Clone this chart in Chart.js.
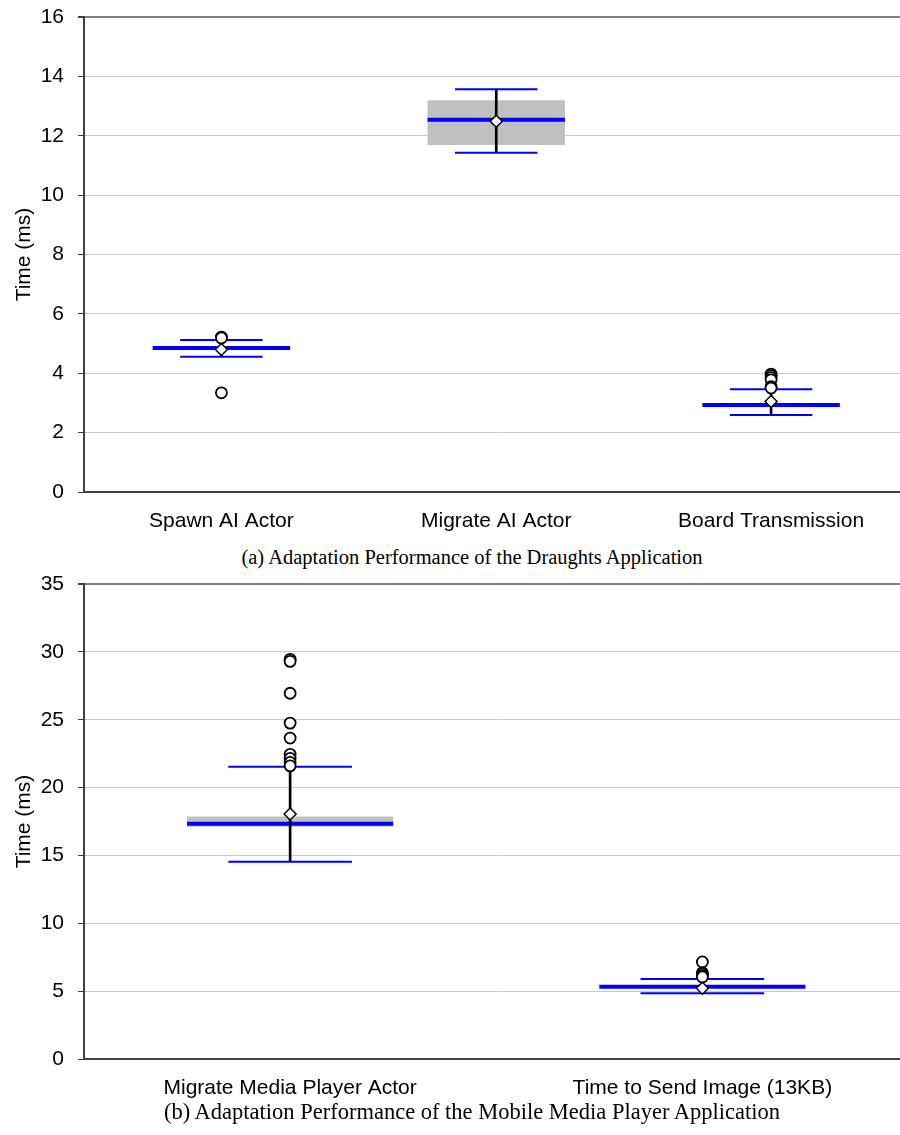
<!DOCTYPE html>
<html>
<head>
<meta charset="utf-8">
<script src="https://cdn.jsdelivr.net/npm/chart.js@4.4.0/dist/chart.umd.min.js"></script>
<style>
  html, body { margin: 0; padding: 0; background: #fff; overflow: hidden; }
  body { width: 900px; height: 1135px; position: relative; }
  .panel { position: absolute; left: 0; width: 916px; height: 545px; }
  .caption {
    position: absolute; left: 0; width: 944px; height: 24px; line-height: 24px;
    text-align: center; font-family: 'Liberation Serif', 'Times New Roman', serif;
    font-size: 20.5px; color: #000;
  }
</style>
</head>
<body>
<div class="panel" style="top:0"><canvas id="chartA" width="916" height="545"></canvas></div>
<div class="caption" style="top:545px">(a) Adaptation Performance of the Draughts Application</div>
<div class="panel" style="top:567px"><canvas id="chartB" width="916" height="545"></canvas></div>
<div class="caption" style="top:1100px; font-size:22.5px">(b) Adaptation Performance of the Mobile Media Player Application</div>

<script>
// (a) Draughts application
const catsA = ['Spawn AI Actor', 'Migrate AI Actor', 'Board Transmission'];
const lowA = [4.56, 11.43, 2.59];
const q1A = [4.80, 11.69, 2.88];
const medA = [4.85, 12.54, 2.93];
const q3A = [4.90, 13.20, 2.98];
const highA = [5.12, 13.57, 3.46];
const meanA = [4.80, 12.49, 3.05];
const outA = [[5.22, 5.19, 3.34], [], [3.97, 3.92, 3.85, 3.78, 3.55, 3.50]];
const ticksA = [0, 2, 4, 6, 8, 10, 12, 14, 16];

// (b) Mobile media player application
const catsB = ['Migrate Media Player Actor', 'Time to Send Image (13KB)'];
const lowB = [14.54, 4.84];
const q1B = [17.12, 5.25];
const medB = [17.34, 5.33];
const q3B = [17.86, 5.42];
const highB = [21.54, 5.90];
const meanB = [18.05, 5.21];
const outB = [[29.45, 29.3, 26.95, 24.75, 23.65, 22.45, 22.15, 21.85, 21.6], [7.15, 6.35, 6.25, 6.15, 6.05]];
const ticksB = [0, 5, 10, 15, 20, 25, 30, 35];

const SANS = "'Liberation Sans', Arial, sans-serif";

// ширина засечки в долях ширины категории
function capRadius(frac, n) {
  return ctx => ctx.chart.chartArea ? ctx.chart.chartArea.width / n * frac : 0;
}

function boxChart(id, cats, low, q1, med, q3, high, mean, outliers, ticks) {
  const n = cats.length;
  const outPts = [];
  outliers.forEach((list, i) => list.forEach(v => outPts.push({ x: cats[i], y: v })));

  const pointLine = (data, frac, width, order) => ({
    type: 'line', data, showLine: false, order,
    pointStyle: 'line', pointRadius: capRadius(frac, n), pointHoverRadius: capRadius(frac, n),
    borderColor: '#0000ff', pointBorderColor: '#0000ff', pointBorderWidth: width, borderWidth: width
  });

  return new Chart(document.getElementById(id), {
    type: 'bar',
    data: {
      labels: cats,
      datasets: [
        { type: 'bar', data: cats.map((c, i) => [q1[i], q3[i]]), backgroundColor: '#c0c0c0',
          barPercentage: 0.5, categoryPercentage: 1, grouped: false, order: 7 },
        pointLine(med, 0.25, 4, 6),
        { type: 'bar', data: cats.map((c, i) => [low[i], high[i]]), backgroundColor: '#000',
          barThickness: 2, grouped: false, order: 5 },
        pointLine(low, 0.15, 2, 4),
        pointLine(high, 0.15, 2, 3),
        { type: 'line', data: mean, showLine: false, order: 2, pointStyle: 'rectRot',
          pointRadius: 6, pointBackgroundColor: '#fff', pointBorderColor: '#000', pointBorderWidth: 1.5 },
        { type: 'line', data: outPts, showLine: false, order: 1, pointStyle: 'circle',
          pointRadius: 5.5, pointBackgroundColor: '#fff', pointBorderColor: '#000', pointBorderWidth: 1.8 }
      ]
    },
    options: {
      responsive: false,
      animation: false,
      devicePixelRatio: 1,
      events: [],
      layout: { padding: { top: 17, right: 0, left: 0, bottom: 0 } },
      plugins: { legend: { display: false }, tooltip: { enabled: false } },
      scales: {
        x: {
          offset: true,
          grid: { display: false, drawTicks: false },
          border: { display: true, color: '#404040', width: 2 },
          ticks: { color: '#000', font: { family: SANS, size: 21 }, padding: 17, maxRotation: 0, autoSkip: false },
          afterFit: s => { s.height = 53; }
        },
        y: {
          min: ticks[0], max: ticks[ticks.length - 1],
          afterBuildTicks: s => { s.ticks = ticks.map(v => ({ value: v })); },
          afterFit: s => { s.width = 84; s.paddingTop = 0; s.paddingBottom = 0; },
          grid: {
            color: c => c.tick && c.tick.value === ticks[ticks.length - 1] ? '#808080' : '#c8c8c8',
            lineWidth: c => c.tick && c.tick.value === ticks[ticks.length - 1] ? 2 : 1,
            tickColor: '#404040', tickLength: 6
          },
          border: { display: true, color: '#404040', width: 2 },
          ticks: { color: '#000', font: { family: SANS, size: 21 }, padding: 14 },
          title: { display: true, text: 'Time (ms)', color: '#000', font: { family: SANS, size: 21 }, padding: { top: 12, bottom: 0 } }
        }
      }
    }
  });
}

boxChart('chartA', catsA, lowA, q1A, medA, q3A, highA, meanA, outA, ticksA);
boxChart('chartB', catsB, lowB, q1B, medB, q3B, highB, meanB, outB, ticksB);
</script>
</body>
</html>
